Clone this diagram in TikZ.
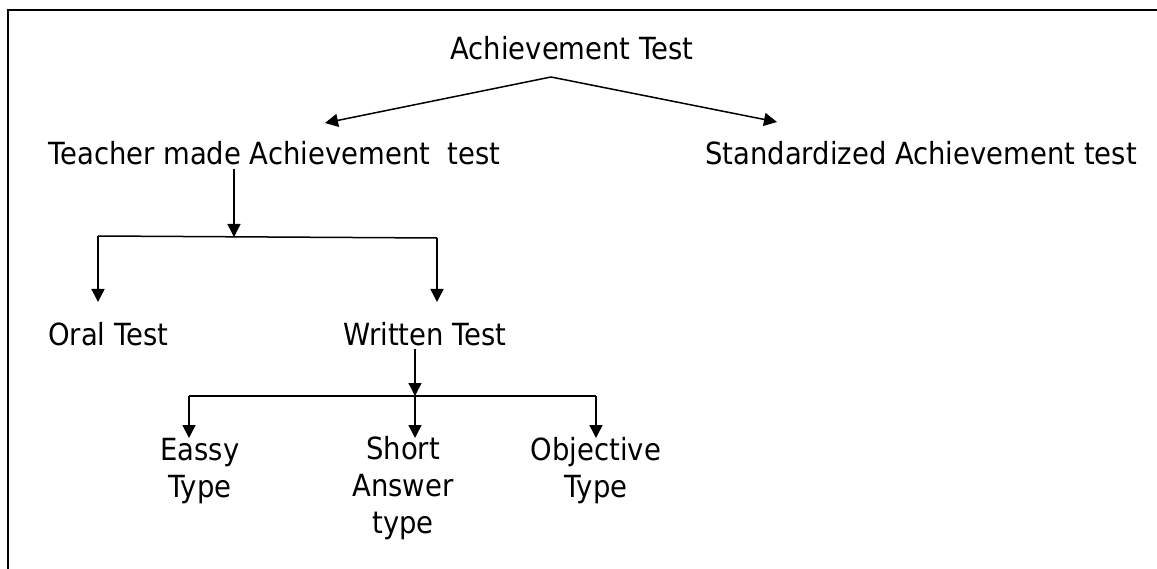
\documentclass[tikz,border=0pt]{standalone}
\usepackage{fontspec}
\setmainfont{DejaVu Sans}[FakeStretch=0.9]
\usetikzlibrary{arrows.meta}
\begin{document}
\begin{tikzpicture}[x=1pt,y=-1pt,
  lbl/.style={inner sep=0pt,font=\fontsize{30.5}{37}\selectfont,align=center},
  conn/.style={line width=1.5pt,-{Triangle[length=13pt,width=13pt]}},
  plain/.style={line width=1.5pt}]
\useasboundingbox (0,0) rectangle (1157,569);
% frame (top and left edges)
\draw[line width=2pt] (8,569) -- (8,10) -- (1160,10);

% labels (multi-line labels are placed by the baseline of their last line)
\node[lbl,anchor=base] (root) at (572,60) {Achievement Test};
\node[lbl,anchor=base west] (teacher) at (48,165) {Teacher made Achievement\ \ test};
\node[lbl,anchor=base west] (std) at (705,165) {Standardized Achievement test};
\node[lbl,anchor=base west] (oral) at (48,345) {Oral Test};
\node[lbl,anchor=base west] (written) at (343,345) {Written Test};
\node[lbl,anchor=base] (essay) at (200,497) {Eassy\\Type};
\node[lbl,anchor=base] (short) at (403,533) {Short\\Answer\\type};
\node[lbl,anchor=base] (obj) at (596,497) {Objective\\Type};

% junction points
\coordinate (apex) at (551,77);
\coordinate (tT) at (325,123);
\coordinate (tS) at (777,122);
\coordinate (jA) at (234,237);
\coordinate (jL) at (98,236);
\coordinate (jR) at (437,238);
\coordinate (tO) at (98,302);
\coordinate (tW) at (437,302);
\coordinate (jB) at (415,396);
\coordinate (bL) at (189,396);
\coordinate (bR) at (596,396);
\coordinate (tE) at (189,438);
\coordinate (tSh) at (415,438);
\coordinate (tOb) at (596,438);

% root to the two kinds of test
\draw[conn] (apex) -- (tT);
\draw[conn] (apex) -- (tS);

% teacher made test: oral / written
\draw[conn] (teacher.south -| jA) ++(0,3) -- (jA);
\draw[plain] (jL) -- (jR);
\draw[conn] (jL) -- (tO);
\draw[conn] (jR) -- (tW);

% written test: three types
\draw[conn] (written.south -| jB) ++(0,3) -- (jB);
\draw[plain] (bL) -- (bR);
\draw[conn] (bL) -- (tE);
\draw[conn] (jB) -- (tSh);
\draw[conn] (bR) -- (tOb);
\end{tikzpicture}
\end{document}
